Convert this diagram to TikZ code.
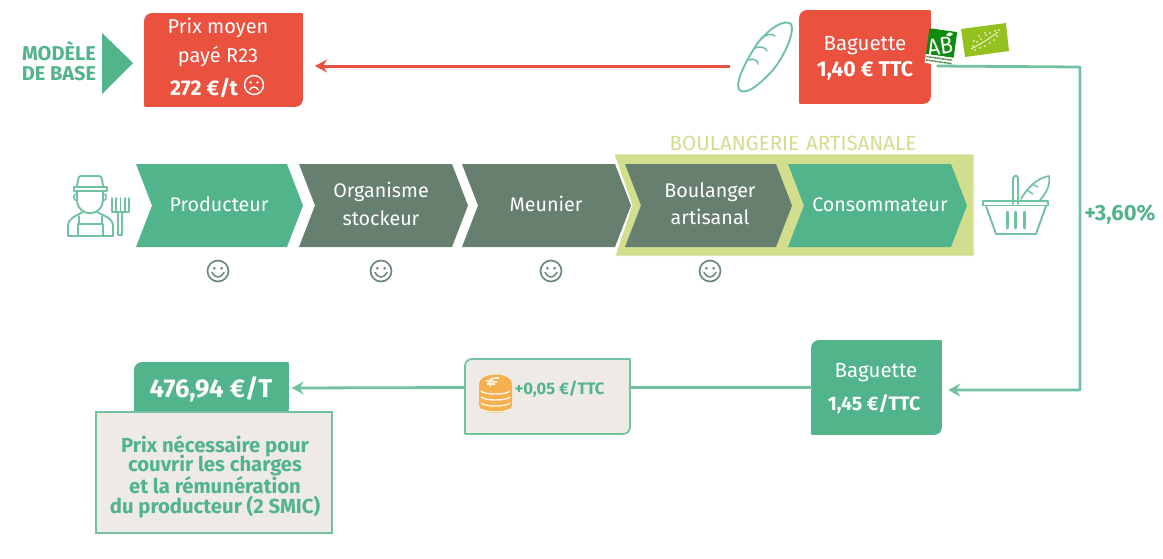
\documentclass[tikz,border=0pt]{standalone}
\usepackage{fontspec}
\setmainfont{Fira Sans}
\usetikzlibrary{calc,arrows.meta}
\definecolor{leaf}{HTML}{52B48A}
\definecolor{leafline}{HTML}{72C29F}
\definecolor{slate}{HTML}{667F6F}
\definecolor{tomato}{HTML}{EA513E}
\definecolor{pale}{HTML}{D0DE8E}
\definecolor{sand}{HTML}{EEEBE6}
\definecolor{coin}{HTML}{F5B04F}
\definecolor{abgreen}{HTML}{0E8A10}
\definecolor{eugreen}{HTML}{95C11F}
\definecolor{face}{HTML}{6C8878}
\newcommand{\fs}[1]{\fontsize{#1}{#1}\selectfont}
% box with rounded top-left and bottom-right corners, plus an empty node spanning it
\newcommand{\cutbox}[7]{%
  \pgfmathsetmacro{\boxw}{#4-#2}\pgfmathsetmacro{\boxh}{#5-#3}%
  \pgfmathsetmacro{\xa}{#2+7}\pgfmathsetmacro{\ya}{#3+7}%
  \pgfmathsetmacro{\xb}{#4-7}\pgfmathsetmacro{\yb}{#5-7}%
  \pgfmathsetmacro{\xc}{#2+3}\pgfmathsetmacro{\yc}{#3+3}%
  \pgfmathsetmacro{\xd}{#4-3}\pgfmathsetmacro{\yd}{#5-3}%
  \path[fill=#6,draw=#7,line width=1.8pt,line join=round]
    (\xa,#3) -- (#4,#3) -- (#4,\yb) .. controls (#4,\yd) and (\xd,#5) .. (\xb,#5)
    -- (#2,#5) -- (#2,\ya) .. controls (#2,\yc) and (\xc,#3) .. (\xa,#3) -- cycle;
  \node[minimum width=\boxw pt,minimum height=\boxh pt,inner sep=0pt] (#1)
    at ($(#2,#3)!.5!(#4,#5)$) {};}
\tikzset{
  x=1pt,y=-1pt,
  chevtext/.style={text=white,align=center,font=\fs{19.7}},
  boxtext/.style={text=white,align=center,font=\fs{20.5}},
  greentext/.style={text=leaf,align=center,font=\bfseries\fs{20.3}},
  icon/.style={draw=leafline,line width=1.9pt,line join=round,line cap=round,fill=none},
  chain/.style={line width=2.8pt,draw=leafline},
  chainarrow/.style={chain,-{Stealth[length=12pt,width=13pt]}},
  smiley/.pic={
    \draw[face,line width=1.7pt] (0,0) circle (10.5);
    \fill[face] (-3.6,-2.8) circle (1.5) (3.6,-2.8) circle (1.5);
    \draw[face,line width=1.5pt,line cap=round] (-6,1.5) .. controls (-3,7.5) and (3,7.5) .. (6,1.5);
  },
  sadface/.pic={
    \draw[white,line width=1.4pt] (0,0) circle (9.5);
    \fill[white] (-3.4,-2.6) circle (1.3) (3.4,-2.6) circle (1.3);
    \draw[white,line width=1.3pt,line cap=round] (-4.5,5) .. controls (-2,1) and (2,1) .. (4.5,5);
  },
}
\begin{document}
\begin{tikzpicture}
\useasboundingbox (0,0) rectangle (1163,558);

% heading marker
\node[text=leaf,font=\bfseries\fs{20},align=center,inner sep=0pt] (modele) at (59,61.5) {MODÈLE\\[0pt]DE BASE};
\path[fill=leaf] (102,33) -- (133,63) -- (102,94) -- cycle;

% top row
\cutbox{prixbox}{145}{14}{302}{106}{tomato}{tomato}
\node[boxtext,inner sep=0pt,font=\fs{20}] (prixa) at (218,27.5) {Prix moyen};
\node[boxtext,inner sep=0pt,font=\fs{20}] (prixb) at (218,56.5) {payé R23};
\node[boxtext,font=\bfseries\fs{21.3},inner sep=0pt] (prixc) at (204,88) {272 €/t};
\pic at (254,85) {sadface};

\cutbox{bagred}{800}{11}{930}{103}{tomato}{tomato}
\node[boxtext,inner sep=0pt] (baga) at (865,45.5) {Baguette};
\node[boxtext,font=\bfseries\fs{21.3},inner sep=0pt] (bagb) at (865,71) {1,40 € TTC};

% baguette outline
\draw[icon] (741,91) .. controls (733,88) and (743,65) .. (757,44)
  .. controls (770,27) and (785,19) .. (791,24)
  .. controls (795,32) and (785,55) .. (773,70)
  .. controls (760,84) and (748,94) .. (741,91) -- cycle;
\draw[icon,line width=1.6pt] (761,39) .. controls (765,34) and (773,33) .. (775,36);
\draw[icon,line width=1.6pt] (755,48) .. controls (759,46) and (766,47) .. (767,51);
\draw[icon,line width=1.6pt] (749,60) .. controls (753,58) and (758,60) .. (758,64);

\node[minimum size=1pt,inner sep=0pt] (baguetteicon) at (731,66) {};
\coordinate (prixport) at (315,66);
\draw[line width=3pt,draw=tomato,-{Stealth[length=12pt,width=13pt]}] (baguetteicon) -- (prixport);

% organic labels
\begin{scope}[shift={(941,47)},rotate=-8]
  \fill[abgreen] (-14,-17) rectangle (14,9);
  \fill[white] (-14,9) rectangle (14,18);
  \draw[abgreen!55!gray,line width=1.4pt,dash pattern=on 2pt off .6pt] (-13,11.5) -- (13,11.5);
  \draw[abgreen!55!gray,line width=1.4pt,dash pattern=on 2pt off .6pt] (-13,15) -- (13,15);
\end{scope}
\node[text=white,font=\fs{24},rotate=8,xscale=.9,inner sep=0pt] (ablogo) at (940,46.5) {AB};
\fill[white] (946,35) .. controls (949,31) and (952,32) .. (953,34) .. controls (950,37) and (948,37) .. (946,35) -- cycle;
\path[fill=eugreen] (961,29) -- (1006,23) -- (1009,51) -- (965,57) -- cycle;
\foreach \px/\py in {973/46, 977/42, 981/39, 986/35, 990/33, 995/31, 999/30,
                     975/50, 980/48, 985/46, 990/43, 994/40, 997/36, 974/41, 979/36, 985/33}
  \fill[white] (\px,\py) circle (.8);
\draw[white,line width=.7pt] (971,49) .. controls (981,44) and (990,38) .. (998,32);

% supply chain
\path[fill=pale,draw=white,line width=.8pt] (614,154) -- (974,154) -- (974,256) -- (615,256) -- (632,205) -- cycle;
\node[text=pale,font=\fs{20.5},inner sep=0pt] (bandtitle) at (793,143) {BOULANGERIE\hspace{7pt}ARTISANALE};
\foreach \xl/\xr/\col in {136/287/leaf, 299/452/slate, 462/615/slate, 625/776/slate, 788/951/leaf}{
  \pgfmathsetmacro{\tip}{\xr+16}\pgfmathsetmacro{\nch}{\xl+16}
  \path[fill=\col] (\xl,164) -- (\xr,164) -- (\tip,205.5) -- (\xr,247) -- (\xl,247) -- (\nch,205.5) -- cycle;
}
\node[chevtext,inner sep=0pt] (producteur) at (219,204) {Producteur};
\node[chevtext,inner sep=0pt] (orga) at (381,192) {Organisme};
\node[chevtext,inner sep=0pt] (stockeur) at (381,218) {stockeur};
\node[chevtext,inner sep=0pt] (meunier) at (546,204) {Meunier};
\node[chevtext,inner sep=0pt] (boul) at (710,192) {Boulanger};
\node[chevtext,inner sep=0pt] (artis) at (710,217) {artisanal};
\node[chevtext,inner sep=0pt] (conso) at (880,205) {Consommateur};
\foreach \sx in {218,381,551,710} \pic at (\sx,271) {smiley};

% farmer
\draw[icon] (77,186) .. controls (78,180) and (78,176) .. (81,176) -- (99,176) .. controls (102,176) and (102,180) .. (103,186);
\draw[icon] (74,187) -- (107,187) -- (107,191) -- (74,191) -- cycle;
\draw[icon] (77,191) -- (77,199) .. controls (77,218) and (103,218) .. (103,199) -- (103,191);
\draw[icon,line width=1.5pt] (77,194) .. controls (73,193) and (72,200) .. (77,201);
\draw[icon,line width=1.5pt] (103,194) .. controls (107,193) and (108,200) .. (103,201);
\draw[icon] (68,236) -- (68,226) .. controls (68,218) and (76,216) .. (83,212);
\draw[icon] (113,236) -- (113,226) .. controls (113,218) and (104,216) .. (97,212);
\draw[icon] (68,236) -- (113,236);
\draw[icon,line width=1.5pt] (78,236) -- (78,224) -- (103,224) -- (103,236);
\draw[icon,line width=1.5pt] (79,224) -- (79,216) (102,224) -- (102,216);
\draw[icon,line width=1.5pt] (112,198) -- (112,212) -- (129,212) -- (129,198)
  (116,198) -- (116,212) (120.5,198) -- (120.5,212) (125,198) -- (125,212);
\draw[icon] (118,212) -- (118,235) -- (122,235) -- (122,212);

% basket
\draw[icon] (983,201) -- (1048,201) -- (1048,205.5) -- (983,205.5) -- cycle;
\draw[icon] (986,206) -- (996,234) -- (1036,234) -- (1046,206);
\draw[icon] (1013,204) -- (1013,178) .. controls (1015,175) and (1017,175) .. (1018,178) -- (1018,204);
\draw[icon,line width=3pt] (1007,212) -- (1007,228) (1015.5,212) -- (1015.5,228) (1024,212) -- (1024,228);
\draw[icon,line width=1.7pt] (1021,199) .. controls (1026,190) and (1036,178) .. (1049,176)
  .. controls (1051,185) and (1045,195) .. (1040,200);
\draw[icon,line width=1.4pt] (1027,190) -- (1033,194) (1032,184) -- (1038,187);

% price build-up along the bottom
\cutbox{sourcebag}{812}{341}{941}{434}{leaf}{leaf}
\node[boxtext,inner sep=0pt] (baga2) at (876,373) {Baguette};
\node[boxtext,font=\bfseries\fs{19.5},inner sep=0pt] (bagb2) at (874,404) {1,45 €/TTC};

\node[minimum size=1pt,inner sep=0pt] (bioexit) at (936,66) {};
\coordinate (turna) at (1080,67);
\coordinate (sourceport) at ($(sourcebag.east)+(7,2.5)$);
\draw[chain,line join=round,-{Stealth[length=12pt,width=13pt]}] (bioexit) -- (turna) -- (turna |- sourceport) -- (sourceport);
\node[text=leaf,font=\bfseries\fs{22},inner sep=0pt] (hausse) at (1120,215) {+3,60\%};

\cutbox{surcout}{465}{359}{630}{434}{sand}{leafline}
\node[text=leaf,font=\bfseries\fs{16.6},inner sep=0pt] (surtxt) at (559.5,389) {+0,05 €/TTC};
% stack of coins
\begin{scope}
  \fill[coin] (479,384) -- (479,405) .. controls (479,416) and (512,416) .. (512,405) -- (512,384) -- cycle;
  \fill[coin] (495.5,384) ellipse (16.5 and 9.5);
  \foreach \cy in {392,398,404,410}
    \draw[white!85!coin,line width=1.4pt] (481,\cy-1) .. controls (485,\cy+3) and (506,\cy+3) .. (510,\cy-1);
  \draw[white!85!coin,line width=1.7pt] (499,378) .. controls (490,377) and (486,383) .. (491,386) (486,381) -- (497,382) (487,384) -- (495,384);
\end{scope}

\cutbox{requis}{135}{363}{288}{416}{leaf}{leaf}
\node[text=white,font=\bfseries\fs{25.7},inner sep=0pt] (requistxt) at (211,389) {476,94 €/T};
\path[fill=sand,draw=leafline,line width=1.8pt] (96,412) rectangle (332,533);
\node[greentext,inner sep=0pt] (l1) at (215,446) {Prix nécessaire pour};
\node[greentext,inner sep=0pt] (l2) at (215,466) {couvrir les charges};
\node[greentext,inner sep=0pt] (l3) at (215,485) {et la rémunération};
\node[greentext,inner sep=0pt] (l4) at (215,507) {du producteur (2 SMIC)};
\node[minimum size=1pt,inner sep=0pt] (requisport) at (289,388) {};

\draw[chain] (sourcebag.west) -- (surcout.east |- sourcebag.west);
\draw[chainarrow,shorten >=2pt] (surcout.west |- sourcebag.west) -- (requisport);
\end{tikzpicture}
\end{document}
